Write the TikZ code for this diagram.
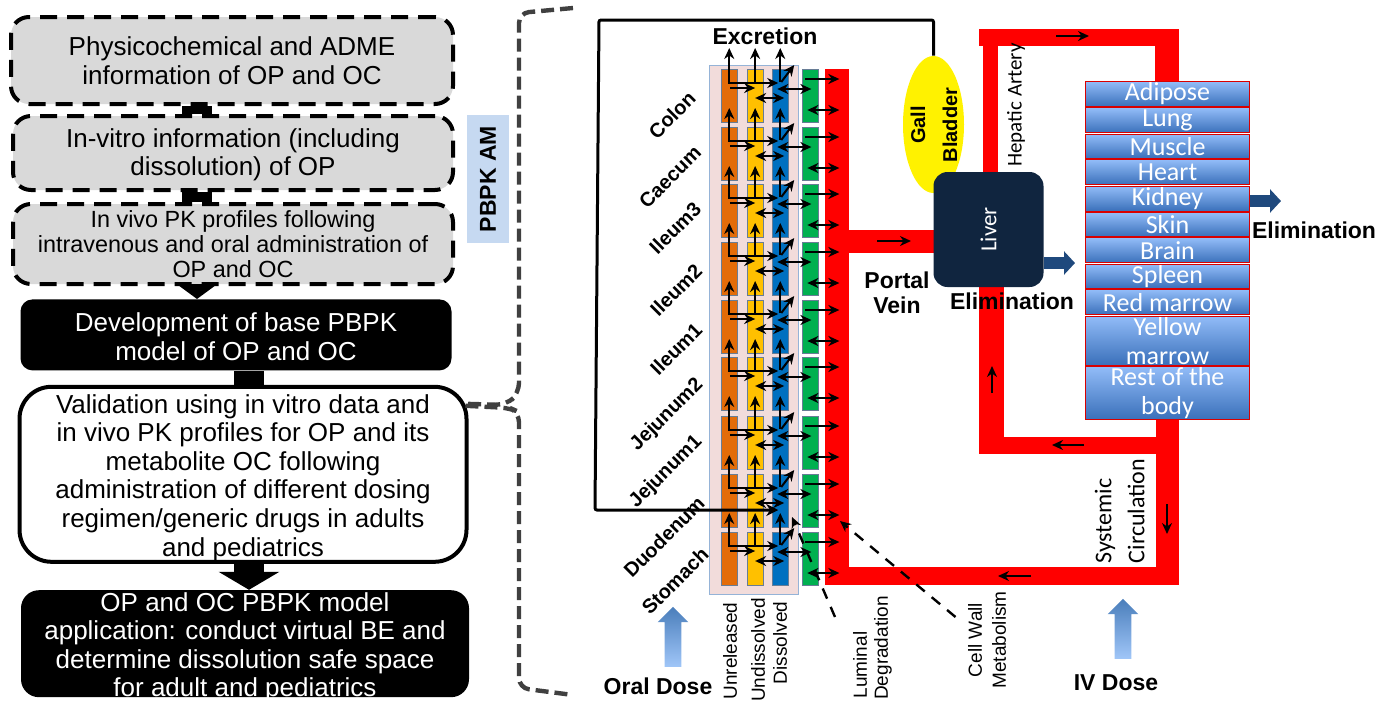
\documentclass[tikz,border=0pt]{standalone}
\usepackage{fontspec}
\setmainfont{Liberation Sans}
\newfontfamily\bodyfont{Carlito}
\usetikzlibrary{shapes.geometric,shapes.arrows,arrows.meta,positioning,calc}
\definecolor{boxgray}{RGB}{217,217,217}
\definecolor{amblue}{RGB}{198,217,241}
\definecolor{bracketgray}{RGB}{64,64,64}
\definecolor{gutorange}{RGB}{227,108,9}
\definecolor{gutyellow}{RGB}{255,192,0}
\definecolor{gutblue}{RGB}{0,112,192}
\definecolor{gutgreen}{RGB}{0,176,80}
\definecolor{gutpink}{RGB}{242,220,219}
\definecolor{gutedge}{RGB}{149,179,215}
\definecolor{liverblue}{RGB}{16,37,63}
\definecolor{elimblue}{RGB}{31,73,125}
\definecolor{organtop}{RGB}{146,188,248}
\definecolor{organbot}{RGB}{58,112,186}
\definecolor{dosetop}{RGB}{74,126,187}
\definecolor{dosebot}{RGB}{160,198,248}
\tikzstyle{stepbox} = [rectangle, rounded corners=9pt, align=center, inner sep=0pt,
    font=\fontsize{13}{14.3}\selectfont]
\tikzstyle{dashbox} = [stepbox, draw=black, fill=boxgray, line width=2pt,
    dash pattern=on 8.5pt off 5pt]
\tikzstyle{blackbox} = [stepbox, rounded corners=6pt, fill=black, text=white]
\tikzstyle{stem} = [line width=15pt, black]
\tikzstyle{compart} = [rectangle, draw=gutedge!70!black, line width=0.25pt, minimum width=8pt,
    minimum height=26.3pt, inner sep=0pt]
\tikzstyle{flow} = [line width=1pt, ->, >={Stealth[length=5.5pt,width=5pt]}]
\tikzstyle{twoway} = [flow, <->]
\tikzstyle{dashflow} = [flow, line width=1.2pt, dash pattern=on 5.5pt off 4.5pt]
\tikzstyle{vessel} = [fill=red]
\tikzstyle{organ} = [rectangle, draw=red!85!black, line width=0.5pt, minimum width=82pt,
    inner xsep=0pt, inner ysep=-3pt, top color=organtop, bottom color=organbot, text=white, align=center,
    font=\bodyfont\fontsize{13}{14.5}\selectfont]
\tikzstyle{elimarrow} = [line width=6pt, elimblue, -{Triangle[length=5.5pt,width=11.5pt]}]
\tikzstyle{doseup} = [single arrow, shape border rotate=90, inner sep=4pt, minimum width=15pt,
    minimum height=30pt, single arrow head extend=3.5pt, single arrow head indent=0pt,
    top color=dosetop, bottom color=dosebot]
\tikzstyle{boldlabel} = [font=\bfseries\fontsize{11.5}{13}\selectfont, inner sep=0pt]
\tikzstyle{segment} = [font=\bfseries\fontsize{10}{11}\selectfont, rotate=45, inner sep=0pt]
\tikzstyle{sidelabel} = [font=\fontsize{9.5}{11}\selectfont, rotate=90, inner sep=0pt]

\begin{document}
\begin{tikzpicture}[x=0.5pt,y=-0.5pt]
\useasboundingbox (0,0) rectangle (1383,702);

% ── Workflow ────
\node[dashbox, minimum width=221pt, minimum height=43.5pt] (physchem) at (232,60.5)
    {Physicochemical and ADME\\information of OP and OC};
\node[dashbox, minimum width=220pt, minimum height=37pt, below=4pt of physchem, xshift=0.5pt] (invitro)
    {\rule{0pt}{11pt}In-vitro information (including\\dissolution) of OP};
\node[dashbox, minimum width=220pt, minimum height=40pt, below=5pt of invitro,
    font=\fontsize{11.7}{12.6}\selectfont] (invivo)
    {In vivo PK profiles following\\intravenous and oral administration of\\OP and OC};
\node[blackbox, minimum width=215.5pt, minimum height=35.5pt, below=6.5pt of invivo, xshift=1.5pt] (basemodel)
    {\rule{0pt}{11pt}Development of base PBPK\\model of OP and OC};
\node[stepbox, draw=black, line width=2pt, fill=white, rounded corners=16pt, inner ysep=-2pt, minimum width=223.5pt,
    minimum height=87.5pt, below=7pt of basemodel, xshift=3.5pt] (validation)
    {\rule{0pt}{13pt}Validation using in vitro data and\\in vivo PK profiles for OP and its\\metabolite OC following\\administration of different dosing\\regimen/generic drugs in adults\\and pediatrics};
\node[blackbox, rounded corners=9pt, inner ysep=-5pt, minimum width=224pt, minimum height=53.5pt, below=13pt of validation, xshift=1pt] (application)
    {\rule{0pt}{13pt}OP and OC PBPK model\\application: conduct virtual BE and\\determine dissolution safe space\\for adult and pediatrics};

% ── Workflow arrows ────
\coordinate (stemone) at (197,0);
\coordinate (stemtwo) at (249,0);
\draw[stem] (physchem.south -| stemone) -- (invitro.north -| stemone);
\draw[stem] (invitro.south -| stemone) -- (invivo.north -| stemone);
\draw[stem, -{Triangle[length=7.5pt,width=20pt]}] (invivo.south -| stemone) -- (basemodel.north -| stemone);
\draw[stem] (basemodel.south -| stemtwo) -- (validation.north -| stemtwo);
\draw[stem, -{Triangle[length=9pt,width=30pt]}] (validation.south -| stemtwo) -- (application.north -| stemtwo);

% ── PBPK AM tag and bracket ────
\node[fill=amblue, minimum width=21pt, minimum height=64pt, inner sep=0pt] (pbpkam) at (488,179)
    {\rotatebox{90}{\bfseries\fontsize{11.5}{13}\selectfont PBPK AM}};
\draw[bracketgray, line width=2.2pt, dash pattern=on 6.5pt off 3pt, rounded corners=5pt]
    (573,8) -- (519,13) -- (519,393) -- (506,405) -- ($(validation.north east)+(-3,19)$);
\draw[bracketgray, line width=2.2pt, dash pattern=on 6.5pt off 3pt, rounded corners=5pt]
    ($(validation.north east)+(-3,21)$) -- (510,408) -- (519,412) -- (519,688) -- (573,695);

% ── Vessels ────
\fill[vessel] (825,69) rectangle (849,585);
\fill[vessel] (849,567) rectangle (1179,585);
\fill[vessel] (1156,419) rectangle (1179,585);
\fill[vessel] (979,437) rectangle (1156,454);
\fill[vessel] (979,287) rectangle (1004,454);
\fill[vessel] (983,46) rectangle (998,172);
\fill[vessel] (979,29) rectangle (1179,46);
\fill[vessel] (1155,46) rectangle (1179,81);
\fill[vessel] (849,230) rectangle (934,253);

% ── Gut compartments ────
\node[draw=gutedge, line width=0.7pt, fill=gutpink, minimum width=44.5pt, minimum height=264.5pt,
    inner sep=0pt, anchor=north west] (lumen) at (709,65) {};
\foreach \i/\t in {1/69,2/127,3/184,4/242,5/300,6/357,7/416,8/474,9/532} {
  \node[compart, fill=gutorange, anchor=north west] (unrel\i) at (721,\t) {};
  \node[compart, fill=gutyellow, right=4.7pt of unrel\i] (undis\i) {};
  \node[compart, fill=gutblue, right=4.3pt of undis\i] (dissol\i) {};
  \node[compart, fill=gutgreen, right=6.8pt of dissol\i] (wall\i) {};
}

% ── Gut arrows ────
\foreach \i in {1,...,9} {
  \draw[flow] ($(unrel\i.north)+(-1,14)$) -- ($(dissol\i.north)+(-2,14)$);
  \draw[flow] ($(unrel\i.north)+(1,19)$) -- ($(undis\i.north)+(0,19)$);
  \draw[flow] ($(dissol\i.north)+(1,13)$) -- ($(dissol\i.north)+(14,-4)$);
  \draw[twoway] ($(dissol\i.north)+(-3,20)$) -- ($(wall\i.north)+(1,20)$);
  \draw[twoway] ($(undis\i.north)+(0,29)$) -- ($(dissol\i.north)+(4,29)$);
  \draw[flow] ($(wall\i.north)+(-5,10)$) -- ($(wall\i.north)+(29,10)$);
  \draw[twoway] ($(wall\i.north)+(-3,41)$) -- ($(wall\i.north)+(29,41)$);
}
\foreach \i/\j in {1/2,2/3,3/4,4/5,5/6,6/7,7/8,8/9} {
  \draw[flow] ($(unrel\j.north)+(0,14)$) -- ($(unrel\i.north)+(0,39)$);
  \draw[flow] ($(undis\j.north)+(0,14)$) -- ($(undis\i.north)+(0,39)$);
  \draw[flow] ($(dissol\j.north)+(0,13)$) -- ($(dissol\i.north)+(0,39)$);
}
\draw[flow] ($(unrel1.north)+(0,13)$) -- ($(unrel1.north)+(0,-21)$);
\draw[flow] ($(undis1.north)+(0,13)$) -- ($(undis1.north)+(0,-21)$);
\draw[flow] ($(dissol1.north)+(0,13)$) -- ($(dissol1.north)+(0,-21)$);

% ── Liver and gall bladder ────
\node[ellipse, fill=yellow, minimum width=30.5pt, minimum height=68.5pt, inner sep=0pt] (gall) at (933.5,124.5) {};
\node[rectangle, rounded corners=7pt, fill=liverblue, minimum width=55pt, minimum height=57.5pt, inner sep=0pt,
    text=white] (liver) at (988.5,229.5) {\rotatebox{90}{\bodyfont\fontsize{11.5}{13}\selectfont Liver}};
\node[font=\bfseries\fontsize{10}{12}\selectfont, rotate=90, inner sep=0pt] (gallname) at (918,125) {Gall};
\node[font=\bfseries\fontsize{10}{12}\selectfont, rotate=90, inner sep=0pt] (bladdername) at (950,125) {Bladder};
\draw[line width=1.5pt, ->, >={Stealth[length=6pt,width=6pt]}, rounded corners=1pt] (gall.north) -- (933.5,20) -- (599,20) -- (595,510)
    -- ($(dissol8.north)+(-2,36)$);

% ── Organs ────
\node[organ, minimum height=12.5pt, anchor=north west] (adipose) at (1085,81) {Adipose};
\node[organ, minimum height=12.5pt, below=0.2pt of adipose] (lung) {Lung};
\node[organ, minimum height=12pt, below=0.2pt of lung] (muscle) {Muscle};
\node[organ, minimum height=12.5pt, below=0.2pt of muscle] (heart) {Heart};
\node[organ, minimum height=12.5pt, below=0.2pt of heart] (kidney) {Kidney};
\node[organ, minimum height=12pt, below=0.2pt of kidney] (skin) {Skin};
\node[organ, minimum height=12.5pt, below=0.2pt of skin] (brain) {Brain};
\node[organ, minimum height=12pt, below=0.2pt of brain] (spleen) {Spleen};
\node[organ, minimum height=12.5pt, below=0.2pt of spleen] (redmarrow) {Red marrow};
\node[organ, minimum height=24.5pt, below=0.2pt of redmarrow] (yellowmarrow) {Yellow\\marrow};
\node[organ, minimum height=26.5pt, below=0.2pt of yellowmarrow] (restbody) {Rest of the\\body};

% ── Elimination ────
\coordinate (liverout) at (1075,263);
\coordinate (kidneyout) at (1281,201);
\draw[elimarrow] (liver.east |- liverout) -- (liverout);
\draw[elimarrow] (kidney.east |- kidneyout) -- (kidneyout);
\node[boldlabel] (elimliver) at (1012,301) {Elimination};
\node[boldlabel] (elimkidney) at (1314,230) {Elimination};

% ── Flow marks on vessels ────
\draw[flow] (877,241) -- (911,241);
\draw[flow] (1056,36) -- (1089,36);
\draw[flow] (1084,445) -- (1052,445);
\draw[flow] (992,393) -- (992,366);
\draw[flow] (1167,504) -- (1167,534);
\draw[flow] (1031,576) -- (998,576);

% ── Dashed pointers ────
\node[sidelabel, align=center] (luminal) at (860,665) {Luminal};
\node[sidelabel, align=center] (degradation) at (883,648) {Degradation};
\node[sidelabel, align=center] (cellwall) at (975,640) {Cell Wall};
\node[sidelabel, align=center] (metabolism) at (999,640) {Metabolism};
\coordinate (lumenend) at (835,617);
\coordinate (wallend) at (955.5,617);
\draw[dashflow] (lumenend) -- (792,517);
\draw[dashflow] (wallend) -- (840,521);

% ── Segment labels ────
\node[segment] (colon) at (672,115) {Colon};
\node[segment] (caecum) at (670,177) {Caecum};
\node[segment] (ileum3) at (675,228) {Ileum3};
\node[segment] (ileum2) at (676,290) {Ileum2};
\node[segment] (ileum1) at (676,349) {Ileum1};
\node[segment] (jejunum2) at (667,415) {Jejunum2};
\node[segment] (jejunum1) at (666,472) {Jejunum1};
\node[segment] (duodenum) at (664,537) {Duodenum};
\node[segment] (stomach) at (675,581) {Stomach};

% ── Other labels ────
\node[boldlabel] (excretion) at (765,36) {Excretion};
\node[boldlabel, align=center, font=\bfseries\fontsize{11.5}{12.5}\selectfont] (portal) at (897,293) {Portal\\Vein};
\node[sidelabel] (unreleased) at (730,651) {Unreleased};
\node[sidelabel] (undissolved) at (758,650) {Undissolved};
\node[sidelabel] (dissolved) at (780,643) {Dissolved};
\node[font=\bodyfont\fontsize{10.5}{12}\selectfont, rotate=90, inner sep=0pt] (hepatic) at (1016,105) {Hepatic Artery};
\node[font=\bodyfont\fontsize{12}{14}\selectfont, rotate=90, inner sep=0pt] (systemic) at (1105,521) {Systemic};
\node[font=\bodyfont\fontsize{12}{14}\selectfont, rotate=90, inner sep=0pt] (circulation) at (1136,511) {Circulation};

% ── Doses ────
\node[doseup] (oralarrow) at (673,641) {};
\node[doseup] (ivarrow) at (1123,633) {};
\node[boldlabel] (oraldose) at (658,686) {Oral Dose};
\node[boldlabel] (ivdose) at (1116,683) {IV Dose};

\end{tikzpicture}
\end{document}
